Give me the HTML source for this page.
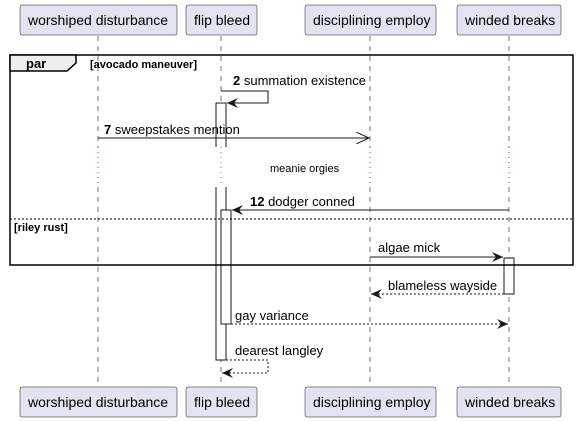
<!DOCTYPE html>
<html><head><style>html,body{margin:0;padding:0;background:#fff}svg{display:block}text{font-family:"Liberation Sans",sans-serif;font-size:13px;fill:#000}</style></head><body>
<svg width="578" height="421" viewBox="0 0 578 421" xmlns="http://www.w3.org/2000/svg">
<defs>
<marker id="f" markerWidth="12" markerHeight="10" refX="11" refY="5" orient="auto" markerUnits="userSpaceOnUse"><path d="M0,0 L11,5 L0,10 L4,5 Z" fill="#181818"/></marker>
<marker id="o" markerWidth="14" markerHeight="12" refX="13" refY="6" orient="auto" markerUnits="userSpaceOnUse"><path d="M0,0 L13,6 L0,12" fill="none" stroke="#181818"/></marker>
</defs>
<g stroke="#181818" stroke-width="0.6" stroke-dasharray="5,5">
<line x1="98" y1="36" x2="98" y2="147"/><line x1="98" y1="187" x2="98" y2="386"/>
<line x1="221" y1="36" x2="221" y2="147"/><line x1="221" y1="187" x2="221" y2="386"/>
<line x1="370" y1="36" x2="370" y2="147"/><line x1="370" y1="187" x2="370" y2="386"/>
<line x1="509" y1="36" x2="509" y2="147"/><line x1="509" y1="187" x2="509" y2="386"/>
</g>
<g stroke="#a80036" stroke-width="0.8" stroke-dasharray="1,4">
<line x1="98" y1="147" x2="98" y2="187"/><line x1="370" y1="147" x2="370" y2="187"/><line x1="509" y1="147" x2="509" y2="187"/>
</g>
<line x1="221" y1="147" x2="221" y2="187" stroke="#666" stroke-width="0.8" stroke-dasharray="1,4"/>
<g fill="#e2e2f0" stroke="#181818" stroke-width="0.5">
<rect x="20" y="5" width="157" height="30" rx="2"/><rect x="186" y="5" width="71" height="30" rx="2"/><rect x="305" y="5" width="131" height="30" rx="2"/><rect x="457" y="5" width="104" height="30" rx="2"/>
<rect x="20" y="387" width="157" height="30" rx="2"/><rect x="186" y="387" width="71" height="30" rx="2"/><rect x="305" y="387" width="131" height="30" rx="2"/><rect x="457" y="387" width="104" height="30" rx="2"/>
</g>
<g font-size="14">
<text x="28" y="25" style="font-size:14px">worshiped disturbance</text><text x="194" y="25" style="font-size:14px">flip bleed</text><text x="313" y="25" style="font-size:14px">disciplining employ</text><text x="465" y="25" style="font-size:14px">winded breaks</text>
<text x="28" y="407" style="font-size:14px">worshiped disturbance</text><text x="194" y="407" style="font-size:14px">flip bleed</text><text x="313" y="407" style="font-size:14px">disciplining employ</text><text x="465" y="407" style="font-size:14px">winded breaks</text>
</g>
<!-- activations -->
<g fill="#fff" stroke="#181818" stroke-width="1">
<path d="M216,147 L216,103 L226,103 L226,147"/>
<path d="M216,187 L216,360 L226,360 L226,187"/>
<rect x="221" y="210" width="10" height="114"/>
<rect x="504" y="258" width="10" height="36"/>
</g>
<!-- frame -->
<rect x="10" y="55" width="563" height="210" fill="none" stroke="#000" stroke-width="1.5"/>
<path d="M10,55 L76,55 L76,63 L67,71 L10,71 Z" fill="#eee" stroke="#000" stroke-width="1.5"/>
<text x="26" y="68" style="font-weight:bold">par</text>
<text x="90" y="68" style="font-weight:bold;font-size:11px">[avocado maneuver]</text>
<line x1="10" y1="219" x2="573" y2="219" stroke="#000" stroke-width="1" stroke-dasharray="2,2"/>
<text x="14" y="231" style="font-weight:bold;font-size:11px">[riley rust]</text>
<g stroke="#181818" stroke-width="1" fill="none">
<path d="M221,91 L268,91 L268,103 L227,103" marker-end="url(#f)"/>
<line x1="98" y1="138" x2="369" y2="138" marker-end="url(#o)"/>
<line x1="509" y1="210" x2="232" y2="210" marker-end="url(#f)"/>
<line x1="370" y1="257" x2="503" y2="257" marker-end="url(#f)"/>
<line x1="504" y1="294" x2="371" y2="294" stroke-dasharray="2,2" marker-end="url(#f)"/>
<line x1="231" y1="324" x2="508" y2="324" stroke-dasharray="2,2" marker-end="url(#f)"/>
<path d="M226,360 L268,360 L268,373 L222,373" stroke-dasharray="2,2" marker-end="url(#f)"/>
</g>
<text x="233" y="85"><tspan font-weight="bold">2</tspan> summation existence</text>
<text x="104" y="134"><tspan font-weight="bold">7</tspan> sweepstakes mention</text>
<text x="270" y="172" style="font-size:11px">meanie orgies</text>
<text x="250" y="206"><tspan font-weight="bold">12</tspan> dodger conned</text>
<text x="378" y="252">algae mick</text>
<text x="388" y="290">blameless wayside</text>
<text x="235" y="320">gay variance</text>
<text x="235" y="355">dearest langley</text>
</svg>
</body></html>
